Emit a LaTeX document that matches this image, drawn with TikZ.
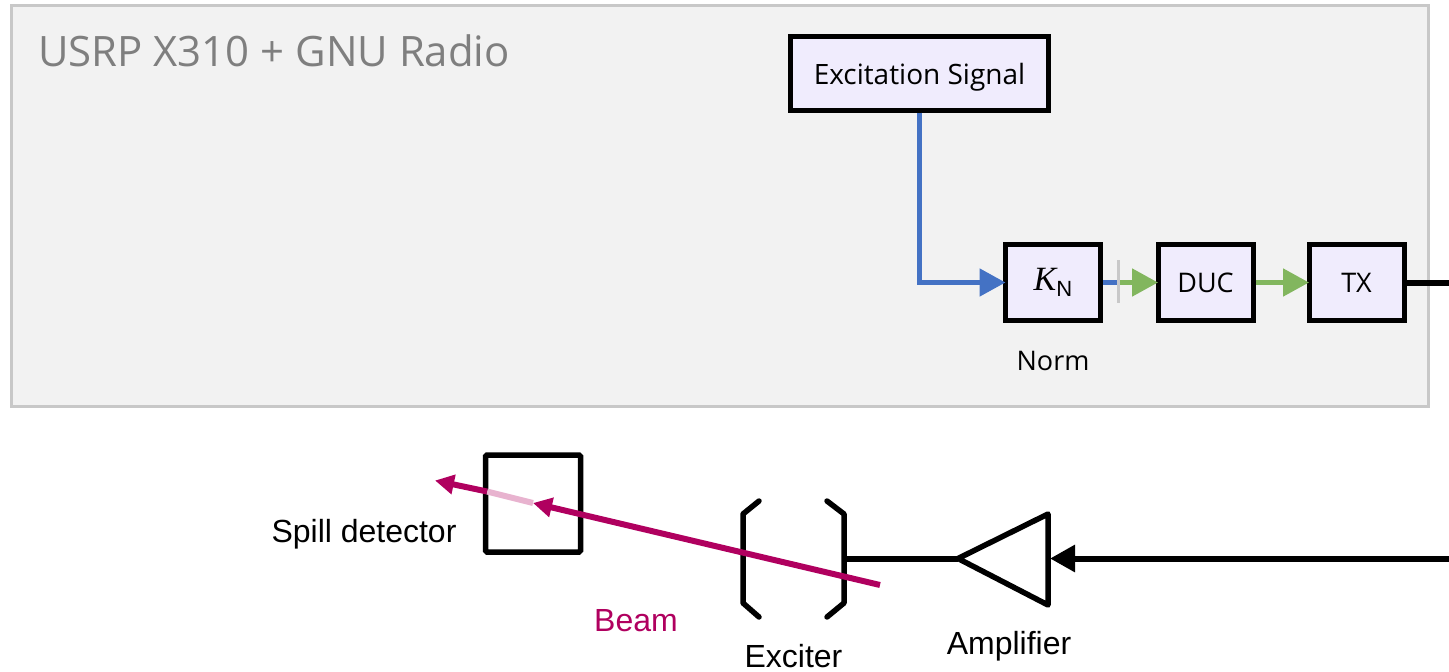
\documentclass[tikz,border=0pt]{standalone}
\usepackage{fontspec}
\setmainfont{Open Sans}
\newfontfamily\arialf{Liberation Sans}
\newfontfamily\mathf{Liberation Serif}
\usetikzlibrary{arrows.meta}
\definecolor{panelfill}{HTML}{F2F2F2}
\definecolor{panelline}{HTML}{C8C8C8}
\definecolor{boxfill}{HTML}{F0ECFD}
\definecolor{sigblue}{HTML}{4472C4}
\definecolor{siggreen}{HTML}{82B65E}
\definecolor{beamc}{HTML}{B0005F}
\definecolor{beampale}{HTML}{E8B3CF}
\definecolor{titlegray}{HTML}{7F7F7F}
\tikzset{
  blockbox/.style={draw=black,fill=boxfill,line width=5pt,inner sep=0pt,outer sep=2.5pt,anchor=center,
    font=\fontsize{27}{32}\selectfont},
  seglabel/.style={inner sep=0pt,outer sep=0pt,font=\fontsize{27}{32}\selectfont},
  arlabel/.style={inner sep=0pt,outer sep=0pt,font=\arialf\fontsize{32}{38}\selectfont},
  bluewire/.style={draw=sigblue,line width=5pt},
  greenwire/.style={draw=siggreen,line width=5pt},
  blackwire/.style={draw=black,line width=6pt},
  beamwire/.style={draw=beamc,line width=6pt},
  bluetip/.style={-{Triangle[length=26pt,width=27pt,fill=sigblue]},shorten >=-2.5pt},
  greentip/.style={-{Triangle[length=26pt,width=27pt,fill=siggreen]},shorten >=-2.5pt},
  blacktip/.style={-{Triangle[length=25pt,width=26pt,fill=black]}},
  beamtip/.style={-{Triangle[length=19pt,width=19pt,fill=beamc]}},
  outline/.style={draw=black,line width=5.5pt,line join=round,line cap=round},
}
\begin{document}
\begin{tikzpicture}[x=1pt,y=-1pt]
\useasboundingbox (0,0) rectangle (1449,672);
% panel
\node[draw=panelline,fill=panelfill,line width=3pt,minimum width=1417pt,minimum height=401pt,inner sep=0pt,outer sep=0pt] (panel) at (719.5,206) {};
\node[inner sep=0pt,anchor=west,text=titlegray,font=\fontsize{41.9}{48}\selectfont] (title) at (38,51) {USRP X310 + GNU Radio};
% blocks
\node[blockbox,minimum width=258pt,minimum height=74pt,font=\fontsize{28}{32}\selectfont,text height=28pt,text depth=6pt] (exc) at (919.5,73) {Excitation Signal};
\node[blockbox,minimum width=95pt,minimum height=76pt] (kn) at (1053,282.5) {\mathf\fontsize{34}{36}\selectfont\itshape K\raisebox{-6pt}{\arialf\upshape\fontsize{22}{26}\selectfont N}};
\node[blockbox,minimum width=95pt,minimum height=76pt] (duc) at (1205.5,282.5) {DUC};
\node[blockbox,minimum width=95pt,minimum height=76pt] (tx) at (1356.5,282.5) {TX};
\node[seglabel] (norm) at (1053,360.5) {Norm};
% signal wires
\draw[bluewire,bluetip] (exc.south) |- (kn.west);
\coordinate (bar) at (1118,282.5);
\draw[bluewire] (kn.east) -- (bar);
\draw[greenwire,greentip] (bar) -- (duc.west);
\draw[draw=panelline,line width=3pt] (1118,260) -- (1118,303);
\draw[greenwire,greentip] (duc.east) -- (tx.west);
\coordinate (txout) at (1449,282.5);
\draw[blackwire] (tx.east) -- (txout);
% detector
\node[draw=black,line width=5.5pt,rounded corners=1.5pt,minimum width=95pt,minimum height=97pt,inner sep=0pt,outer sep=0pt] (det) at (533,503.5) {};
\node[arlabel] (detl) at (364,534) {Spill detector};
% exciter
\draw[outline] (759,501) -- (743,514) -- (743,603) -- (759,617);
\draw[outline] (827,501) -- (844,514) -- (844,603) -- (827,617);
\node[arlabel] (excl) at (793.5,656.5) {Exciter};
% amplifier
\coordinate (ampout) at (958,558.5);
\draw[outline] (ampout) -- (1048,514) -- (1048,605) -- cycle;
\node[arlabel] (ampl) at (1009,646) {Amplifier};
\coordinate (amprail) at (1449,558.5);
\coordinate (excin) at (844,558.5);
\draw[blackwire] (ampout) -- (excin);
\draw[blackwire,blacktip] (amprail) -- (1050,558.5);
% beam
\coordinate (beamstart) at (880,585);
\coordinate (beammid) at (533,503);
\coordinate (beamexit) at (487,491.5);
\coordinate (beamend) at (435,480.5);
\draw[draw=beampale,line width=6pt] (beammid) -- (beamexit);
\draw[beamwire,beamtip] (beamstart) -- (beammid);
\draw[beamwire,beamtip] (beamexit) -- (beamend);
\node[inner sep=0pt,text=beamc,font=\arialf\fontsize{32}{36}\selectfont] (beaml) at (636,621) {Beam};
\end{tikzpicture}
\end{document}
